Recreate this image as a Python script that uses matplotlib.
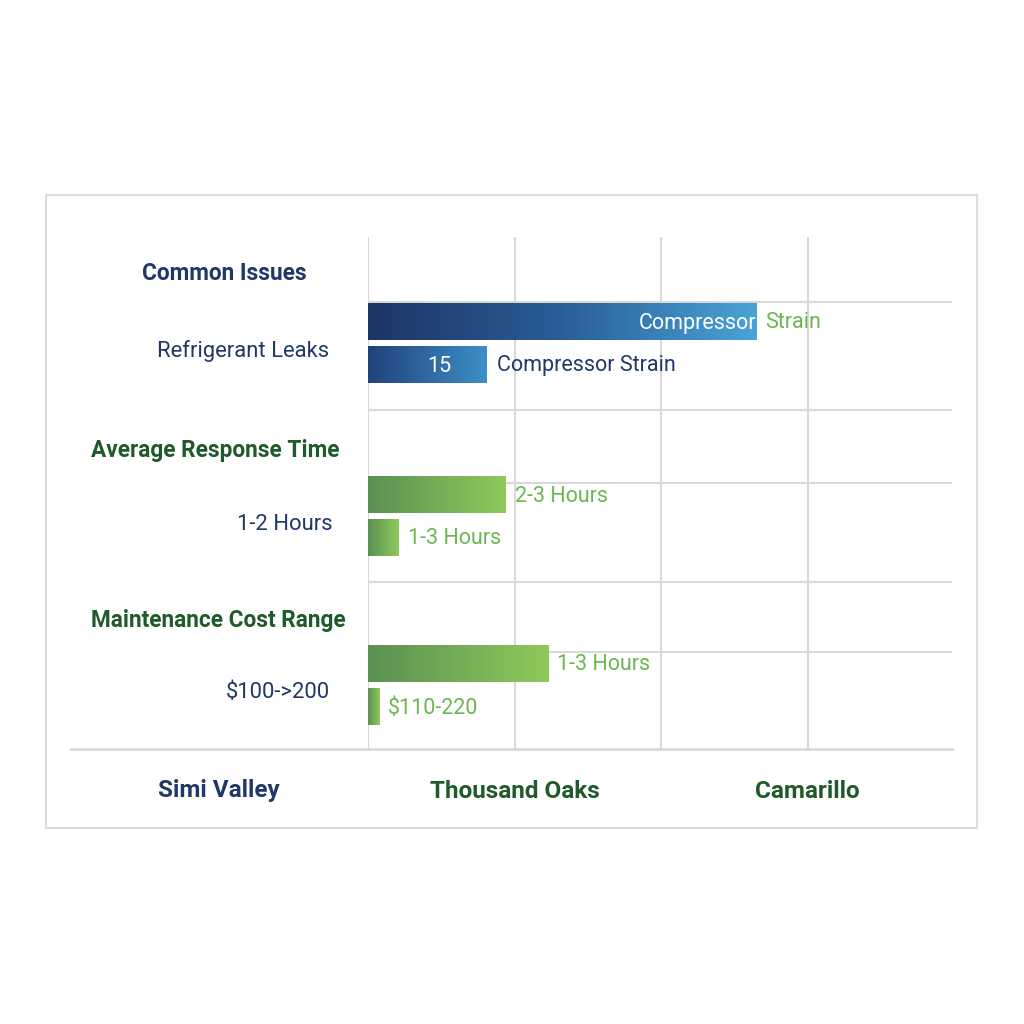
import numpy as np
import matplotlib
matplotlib.use("Agg")
import matplotlib.pyplot as plt
from matplotlib.colors import LinearSegmentedColormap
from matplotlib.patches import Rectangle

# ---- data ----
groups = ["Common Issues", "Average Response Time", "Maintenance Cost Range"]
group_sublabels = ["Refrigerant Leaks", "1-2 Hours", "$100->200"]
bar_values = [[2.65, 0.81], [0.94, 0.21], [1.23, 0.075]]
bar_labels = [["Compressor|Strain", "15|Compressor Strain"],
              ["2-3 Hours", "1-3 Hours"],
              ["1-3 Hours", "$110-220"]]
cities = ["Simi Valley", "Thousand Oaks", "Camarillo"]

NAVY = "#1f3868"
DKGREEN = "#1f5a2a"
LTGREEN = "#6db651"
GRID = "#d9d9d9"

plt.rcParams['font.family'] = ['Roboto', 'DejaVu Sans']

W = H = 1024
fig = plt.figure(figsize=(10.24, 10.24), dpi=100)
fig.patch.set_facecolor("white")

def fx(px):
    return px / W
def fy(py):
    return 1 - py / H

# outer frame
fig.patches.append(Rectangle((fx(46), fy(828)), fx(977) - fx(46), fy(195) - fy(828),
                             transform=fig.transFigure, fill=False, edgecolor="#dcdcdc", lw=1.5))

# axes region in px
AX_L, AX_R, AX_T, AX_B = 368, 952, 237, 749
unit = 146.7
ax = fig.add_axes([fx(AX_L), fy(AX_B), fx(AX_R) - fx(AX_L), fy(AX_T) - fy(AX_B)])
ax.set_xlim(0, (AX_R - AX_L) / unit)
ax.set_ylim(AX_B - AX_T, 0)
ax.axis("off")

def ay(py):
    return py - AX_T

# grid lines
for i in range(4):
    ax.plot([i, i], [0, AX_B - AX_T], color=GRID, lw=1.5, zorder=0)
for py in [302, 410, 483, 582, 652]:
    ax.plot([0, ax.get_xlim()[1]], [ay(py), ay(py)], color=GRID, lw=1.5, zorder=0)
# bottom axis line extending left
fig.lines.append(plt.Line2D([fx(71), fx(952)], [fy(749), fy(749)], transform=fig.transFigure,
                            color=GRID, lw=2))

blue_cmap = LinearSegmentedColormap.from_list("b", ["#1e3566", "#2a5e98", "#4aa3d6"])
blue_cmap2 = LinearSegmentedColormap.from_list("b2", ["#22427a", "#3d8fc8"])
green_cmap = LinearSegmentedColormap.from_list("g", ["#5a9152", "#8fc95b"])

group_top = [303, 476, 645]
bar_h = 37
bar_gap = 43
grad = np.linspace(0, 1, 256).reshape(1, -1)
VF = 15.5

for g in range(3):
    for k in range(2):
        v = bar_values[g][k]
        top = group_top[g] + k * bar_gap
        bot = top + bar_h
        if g == 0:
            cm = blue_cmap if k == 0 else blue_cmap2
        else:
            cm = green_cmap
        ax.imshow(grad, cmap=cm, aspect="auto", extent=[0, v, ay(bot), ay(top)], zorder=2)
        cy = ay((top + bot) / 2 + 1.5)
        lab = bar_labels[g][k]
        if g == 0 and k == 0:
            a, b = lab.split("|")
            ax.text(v - 0.005, cy, a, color="white", fontsize=VF, ha="right", va="center", zorder=3)
            ax.text(v + 0.06, cy, b, color=LTGREEN, fontsize=VF, ha="left", va="center", zorder=3)
        elif g == 0 and k == 1:
            a, b = lab.split("|")
            ax.text(v * 0.6, cy, a, color="white", fontsize=VF, ha="center", va="center", zorder=3)
            ax.text(v + 0.07, cy, b, color=NAVY, fontsize=VF, ha="left", va="center", zorder=3)
        else:
            ax.text(v + 0.06, cy, lab, color=LTGREEN, fontsize=VF, ha="left", va="center", zorder=3)

ax.set_xlim(0, (AX_R - AX_L) / unit)
ax.set_ylim(AX_B - AX_T, 0)

# left labels
head_pos = [(224, 274, NAVY), (215, 451, DKGREEN), (218, 621, DKGREEN)]
sub_pos = [(243, 351), (285, 525), (278, 692)]
for g in range(3):
    x, y, c = head_pos[g]
    fig.text(fx(x), fy(y), groups[g], color=c, fontsize=16.3, fontweight="bold", ha="center", va="center")
    x, y = sub_pos[g]
    fig.text(fx(x), fy(y), group_sublabels[g], color=NAVY, fontsize=15.8, ha="center", va="center")

# bottom city labels
city_pos = [(219, NAVY), (515, DKGREEN), (807, DKGREEN)]
for i, c in enumerate(cities):
    x, col = city_pos[i]
    fig.text(fx(x), fy(791), c, color=col, fontsize=17.5, fontweight="bold", ha="center", va="center")

fig.savefig("out.png", dpi=100, facecolor="white")
